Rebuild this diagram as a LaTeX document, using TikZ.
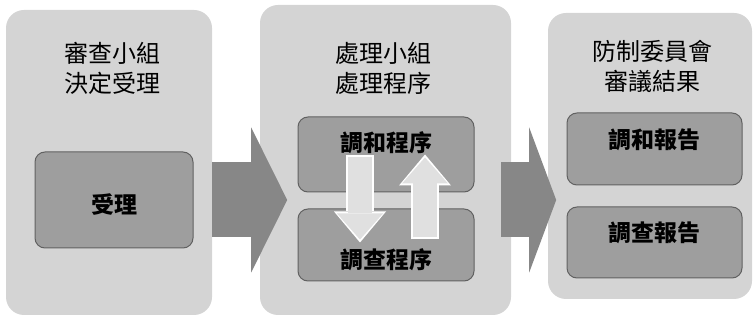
\documentclass[tikz,border=0pt]{standalone}
\usepackage{fontspec}
\setmainfont{Noto Sans CJK TC}
\usetikzlibrary{positioning,calc}
\usetikzlibrary{arrows.meta}

\begin{document}
\begin{tikzpicture}[x=1pt, y=-1pt,
  panel/.style={fill=black!17, rounded corners=18pt, inner sep=0pt},
  title/.style={align=center, font=\fontsize{24}{30}\selectfont},
  stage/.style={fill=black!38, draw=black!62, line width=1pt, rounded corners=10pt,
    minimum width=176pt, inner sep=2pt, font=\bfseries\fontsize{23}{23}\selectfont},
  bigarrow/.style={draw=black!47, line width=75pt,
    -{Triangle[length=#1, width=145pt, line width=0pt]}},
  bigarrow/.default=36pt,
  flow/.style={draw=black!12, line width=24pt,
    -{Triangle[length=26pt, width=46pt, line width=0pt]},
    preaction={draw=white, line width=28pt, shorten <=-2pt, shorten >=-3pt,
      -{Triangle[length=31pt, width=52pt, line width=0pt]}}}]
  \useasboundingbox (0,0) rectangle (755,320);

  \node[panel, minimum width=206pt, minimum height=305pt] (p1) at (109,162.5) {};
  \node[panel, minimum width=251pt, minimum height=310pt] (p2) at (385.5,160) {};
  \node[panel, minimum width=204pt, minimum height=286pt] (p3) at (650,156) {};

  \node[title] (t1) at (112,68.5) {審查小組\\決定受理};
  \node[title] (t2) at (383,68) {處理小組\\處理程序};
  \node[title] (t3) at (652,66.5) {防制委員會\\審議結果};

  \node[stage, minimum width=158pt, minimum height=96pt, text height=28pt, text depth=0.6pt] (accept) at (114,200) {受理};
  \node[stage, minimum height=75pt, text height=12pt, text depth=17.6pt] (med) at (386,154.5) {調和程序};
  \node[stage, minimum height=72pt, text height=48pt, text depth=0.6pt] (inv) at (386,245) {調查程序};
  \node[stage, minimum width=175pt, minimum height=72pt, text height=10pt, text depth=10.6pt] (rep1) at (654.5,149) {調和報告};
  \node[stage, minimum width=175pt, minimum height=71pt, text height=10pt, text depth=11.6pt] (rep2) at (654.5,242.5) {調查報告};

  % Flèches entre les panneaux
  \draw[bigarrow] (accept.east -| p1.east) -- ++(75,0);
  \draw[bigarrow=27pt] ($(accept.east -| p2.east)+(-10,0)$) -- ++(55,0);

  % Flèches entre les deux programmes
  \draw[flow] ($(med.south)+(-26,-35)$) -- ($(inv.north)+(-26,31)$);
  \draw[flow] ($(inv.north)+(39,29)$) -- ($(med.south)+(39,-35)$);
\end{tikzpicture}
\end{document}
